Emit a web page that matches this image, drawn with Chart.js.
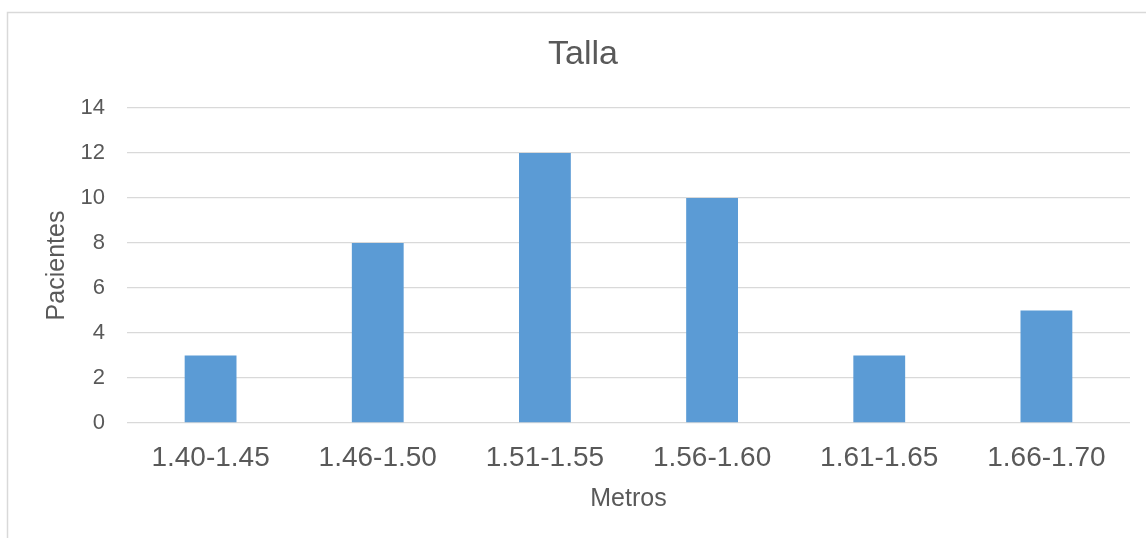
<!DOCTYPE html>
<html lang="es">
<head>
<meta charset="utf-8">
<title>Talla</title>
<script src="https://cdn.jsdelivr.net/npm/chart.js@4"></script>
<style>
  html, body { margin: 0; padding: 0; background: #ffffff; }
  #wrap { width: 1146px; height: 538px; position: relative; }
</style>
</head>
<body>
<div id="wrap"><canvas id="chart" width="1146" height="538"></canvas></div>
<script>
// Rangos de talla (metros) y número de pacientes por rango
const categories = ['1.40-1.45', '1.46-1.50', '1.51-1.55', '1.56-1.60', '1.61-1.65', '1.66-1.70'];
const pacientes = [3, 8, 12, 10, 3, 5];
const yTicks = [0, 2, 4, 6, 8, 10, 12, 14];
const chartTitle = 'Talla';

const TEXT = '#595959';
const GRID = '#d9d9d9';
const FONT = "'Liberation Sans', Arial, sans-serif";

// Marco exterior del gráfico (solo bordes superior e izquierdo visibles)
// y título centrado sobre el marco completo
const frame = {
  id: 'frame',
  afterDraw(chart) {
    const ctx = chart.ctx;
    ctx.save();
    ctx.strokeStyle = GRID;
    ctx.lineWidth = 1.5;
    ctx.beginPath();
    ctx.moveTo(7.5, 538);
    ctx.lineTo(7.5, 12.5);
    ctx.lineTo(1146, 12.5);
    ctx.stroke();

    ctx.fillStyle = TEXT;
    ctx.font = '34px ' + FONT;
    ctx.textAlign = 'center';
    ctx.textBaseline = 'middle';
    ctx.fillText(chartTitle, 583, 55);
    ctx.restore();
  }
};

new Chart(document.getElementById('chart'), {
  type: 'bar',
  data: {
    labels: categories,
    datasets: [{
      label: 'Pacientes',
      data: pacientes,
      backgroundColor: '#5b9bd5',
      borderWidth: 0,
      categoryPercentage: 1,
      barPercentage: 0.31
    }]
  },
  options: {
    responsive: false,
    animation: false,
    devicePixelRatio: 1,
    layout: { padding: { left: 8, top: 108, right: 16, bottom: 0 } },
    plugins: {
      legend: { display: false },
      tooltip: { enabled: false },
      title: { display: false }
    },
    scales: {
      x: {
        grid: { display: false, drawTicks: false },
        border: { display: false },
        ticks: {
          color: TEXT,
          font: { family: FONT, size: 28 },
          padding: 18,
          maxRotation: 0
        },
        title: {
          display: true,
          text: 'Metros',
          color: TEXT,
          font: { family: FONT, size: 25 },
          padding: { top: 24, bottom: 24 }
        },
        afterFit(scale) { scale.height = 115; }
      },
      y: {
        min: 0,
        max: 14,
        afterBuildTicks(scale) { scale.ticks = yTicks.map(v => ({ value: v })); },
        grid: { color: GRID, lineWidth: 1.3, drawTicks: false },
        border: { display: false },
        ticks: {
          color: TEXT,
          font: { family: FONT, size: 22 },
          padding: 22
        },
        title: {
          display: true,
          text: 'Pacientes',
          color: TEXT,
          font: { family: FONT, size: 25 },
          padding: { top: 34, bottom: 0 }
        },
        afterFit(scale) { scale.width = 119; }
      }
    }
  },
  plugins: [frame]
});
</script>
</body>
</html>
